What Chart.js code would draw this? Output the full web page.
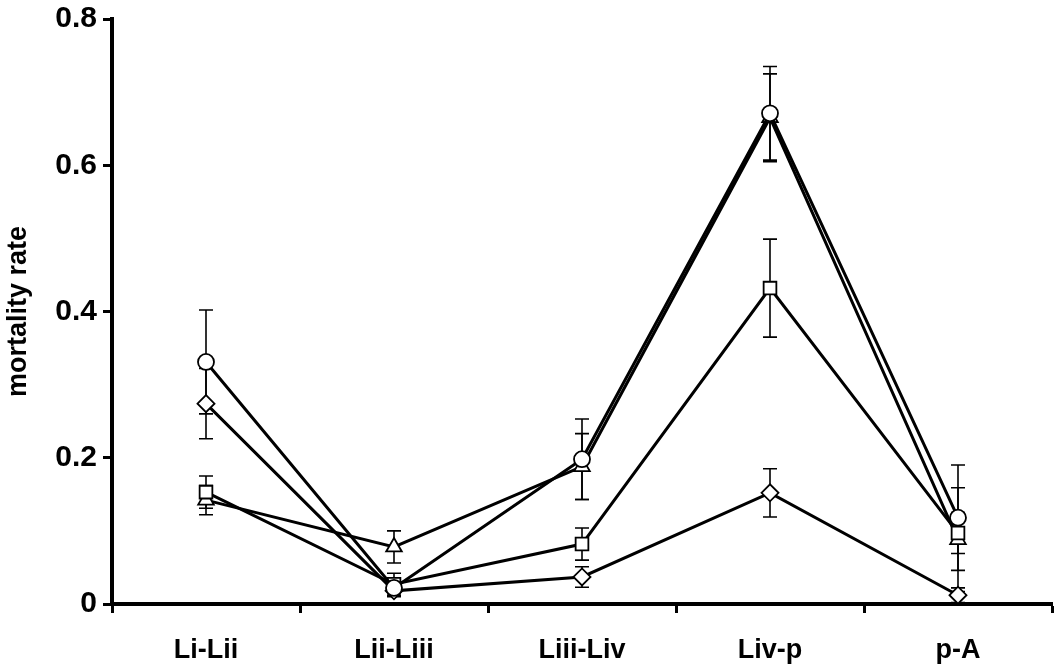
<!DOCTYPE html>
<html>
<head>
<meta charset="utf-8">
<script src="https://cdn.jsdelivr.net/npm/chart.js@4.4.1/dist/chart.umd.min.js"></script>
<style>
  html, body { margin: 0; padding: 0; background: #fff; }
  #wrap { width: 1054px; height: 664px; }
</style>
</head>
<body>
<div id="wrap"><canvas id="chart" width="1054" height="664"></canvas></div>
<script>
const stages = ['Li-Lii', 'Lii-Liii', 'Liii-Liv', 'Liv-p', 'p-A'];
const yTickLabels = ['0', '0.2', '0.4', '0.6', '0.8'];

const circleRate = [0.331, 0.022, 0.198, 0.671, 0.118];
const circleErr = [0.071, 0.010, 0.055, 0.064, 0.072];
const diamondRate = [0.274, 0.018, 0.037, 0.152, 0.012];
const diamondErr = [0.048, 0.008, 0.014, 0.033, 0.010];
const squareRate = [0.153, 0.027, 0.082, 0.432, 0.097];
const squareErr = [0.022, 0.015, 0.022, 0.067, 0.028];
const triangleRate = [0.142, 0.078, 0.188, 0.665, 0.088];
const triangleErr = [0.020, 0.022, 0.045, 0.060, 0.071];

function series(data, err, style, radius) {
    return {
        data: data,
        errors: err,
        borderColor: '#000',
        borderWidth: 3,
        pointStyle: style,
        pointRadius: radius,
        pointBorderWidth: 1.8,
        pointBackgroundColor: '#fff',
        pointBorderColor: '#000',
        tension: 0,
        fill: false,
        clip: false
    };
}

// vertical error bars with caps, drawn under the markers
const errorBars = {
    id: 'errorBars',
    beforeDatasetsDraw(chart) {
        const ctx = chart.ctx;
        const y = chart.scales.y;
        ctx.save();
        ctx.strokeStyle = '#000';
        ctx.lineWidth = 1.6;
        chart.data.datasets.forEach((ds, i) => {
            const meta = chart.getDatasetMeta(i);
            meta.data.forEach((pt, j) => {
                const v = ds.data[j], e = ds.errors[j];
                const top = y.getPixelForValue(v + e);
                const bot = y.getPixelForValue(v - e);
                ctx.beginPath();
                ctx.moveTo(pt.x, top); ctx.lineTo(pt.x, bot);
                ctx.moveTo(pt.x - 7, top); ctx.lineTo(pt.x + 7, top);
                ctx.moveTo(pt.x - 7, bot); ctx.lineTo(pt.x + 7, bot);
                ctx.stroke();
            });
        });
        ctx.restore();
    }
};

new Chart(document.getElementById('chart'), {
    type: 'line',
    data: {
        labels: stages,
        datasets: [
            series(circleRate, circleErr, 'circle', 8),
            series(diamondRate, diamondErr, 'rectRot', 8.5),
            series(squareRate, squareErr, 'rect', 9),
            series(triangleRate, triangleErr, 'triangle', 9)
        ]
    },
    options: {
        responsive: false,
        animation: false,
        layout: { autoPadding: false, padding: { top: 19, right: 2, left: 0, bottom: 0 } },
        plugins: { legend: { display: false }, tooltip: { enabled: false } },
        scales: {
            x: {
                offset: true,
                border: { display: true, color: '#000', width: 4 },
                grid: { display: true, offset: true, drawOnChartArea: false, drawTicks: true, tickLength: 9, tickWidth: 3, tickColor: '#000' },
                ticks: { color: '#000', padding: 21, font: { family: "'Liberation Sans', Arial", weight: 'bold', size: 27 } },
                afterFit(axis) {
                    axis.height = 60;
                    axis.paddingLeft = 0;
                    axis.paddingRight = 0;
                }
            },
            y: {
                min: 0,
                max: 0.8,
                border: { display: true, color: '#000', width: 4 },
                grid: { display: true, drawOnChartArea: false, drawTicks: true, tickLength: 9, tickWidth: 3, tickColor: '#000' },
                ticks: {
                    stepSize: 0.2,
                    color: '#000',
                    padding: 6,
                    font: { family: "'Liberation Sans', Arial", weight: 'bold', size: 30 },
                    callback: (val, idx) => yTickLabels[idx]
                },
                title: {
                    display: true,
                    text: 'mortality rate',
                    color: '#000',
                    padding: { top: 2, bottom: 0 },
                    font: { family: "'Liberation Sans', Arial", weight: 'bold', size: 27 }
                },
                afterFit(axis) {
                    axis.width = 112;
                    axis.paddingTop = 0;
                    axis.paddingBottom = 0;
                }
            }
        }
    },
    plugins: [errorBars]
});
</script>
</body>
</html>
